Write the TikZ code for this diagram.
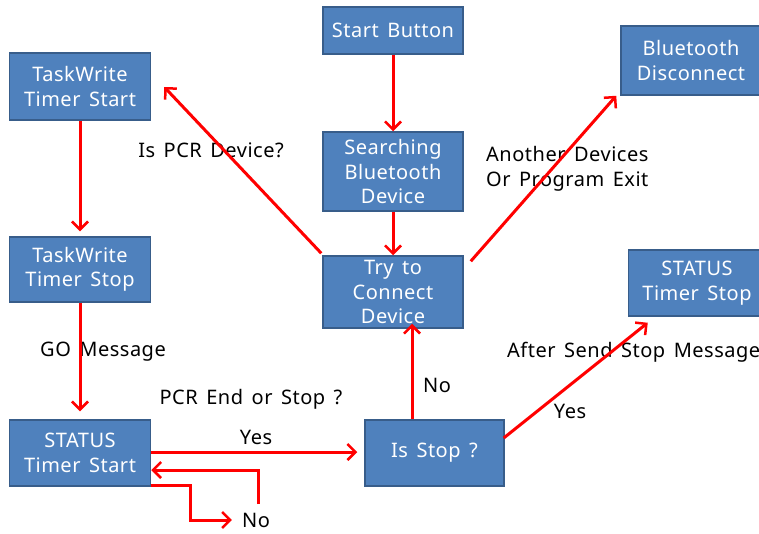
\documentclass[tikz,border=0pt]{standalone}
\usepackage{fontspec}
\setmainfont[LetterSpace=2.5,WordSpace=1.5]{Noto Sans}
\usetikzlibrary{arrows.meta,calc}
\definecolor{boxfill}{HTML}{4F81BD}
\definecolor{boxline}{HTML}{385D8A}
\definecolor{arrred}{HTML}{FF0000}
\begin{document}
\begin{tikzpicture}[x=1pt,y=-1pt,
  every node/.style={font=\fontsize{20}{24.5}\selectfont},
  box/.style={draw=boxline,line width=1.5pt,fill=boxfill,text=white,align=center,inner sep=0pt},
  lbl/.style={text=black,inner sep=0pt,align=left},
  arr/.style={draw=arrred,line width=3pt,-{Straight Barb[length=8pt,width=16pt,line width=2.5pt]}}]
\useasboundingbox (0,0) rectangle (759,533);
\fill[white] (0,0) rectangle (759,533);
% boxes
\node[box,minimum width=140pt,minimum height=47pt] (start) at (393,30.5) {Start Button};
\node[box,minimum width=140pt,minimum height=79pt] (search) at (393,171.5) {Searching\\Bluetooth\\Device};
\node[box,minimum width=140pt,minimum height=72pt] (try) at (393,292) {Try to\\Connect\\Device};
\node[box,minimum width=140pt,minimum height=69pt] (btd) at (691,60.5) {Bluetooth\\Disconnect};
\node[box,minimum width=141pt,minimum height=67pt] (tws) at (80,86.5) {TaskWrite\\Timer Start};
\node[box,minimum width=141pt,minimum height=65pt] (twp) at (80,269.5) {TaskWrite\\Timer Stop};
\node[box,minimum width=141pt,minimum height=66pt] (sts) at (80,453) {STATUS\\Timer Start};
\node[box,minimum width=139pt,minimum height=66pt] (isstop) at (434.5,453) {Is Stop ?};
\node[box,minimum width=137pt,minimum height=66pt] (stp) at (697,283) {STATUS\\Timer Stop};
% labels
\node[lbl] (lpcr) at (211,150) {Is PCR Device?};
\node[lbl,anchor=west] (lanother) at (486,169) {Another Devices\\Or Program Exit};
\node[lbl,anchor=west] (lgo) at (40,352) {GO Message};
\node[lbl] (lend) at (251,399) {PCR End or Stop ?};
\node[lbl] (lyes1) at (256,437) {Yes};
\node[lbl] (lno1) at (437,385) {No};
\node[lbl,anchor=west] (lafter) at (507,352) {After Send Stop Message};
\node[lbl] (lyes2) at (570,411) {Yes};
\node[text=black,inner sep=0pt] (lno2) at (256,520) {No};
% connectors
\draw[arr] (start.south) -- (search.north);
\draw[arr] (search.south) -- (try.north);
\draw[arr] ($(try.north west)+(-1,-2)$) -- ($(tws.east)+(13,0.5)$);
\draw[arr] ($(try.north east)+(7,6)$) -- ($(btd.south west)+(-4,0)$);
\draw[arr] (tws.south) -- ($(twp.north)+(0,-5)$);
\draw[arr] (twp.south) -- ($(sts.north)+(0,-8)$);
\draw[arr] ($(sts.east)+(0,-1)$) -- ($(isstop.west)+(-7,-1)$);
\coordinate (loopA) at (258,504);
\draw[arr] (loopA) |- ($(sts.east)+(0,17)$);
\draw[arr] ($(sts.south east)+(0,-1)$) -| ($(lno2.west)+(-51,0)$) -- ($(lno2.west)+(-10,0)$);
\draw[arr] ([xshift=-22.5pt]isstop.north) -- ([xshift=19pt,yshift=5pt]try.south);
\draw[arr] ($(isstop.east)+(-1,-15)$) -- ($(stp.south west)+(20,6)$);
\end{tikzpicture}
\end{document}
